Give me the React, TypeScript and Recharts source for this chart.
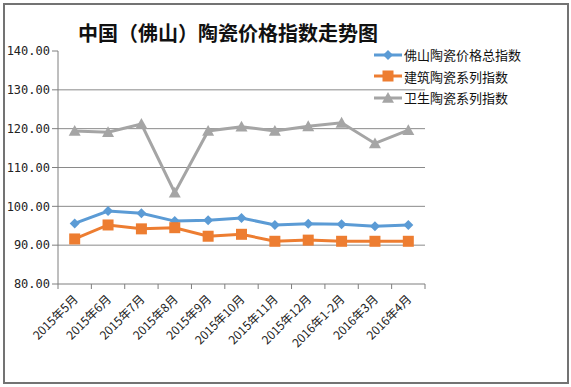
import React from "react"
import { LineChart, Line, XAxis, YAxis, ReferenceLine } from "recharts"

const months = [
  "2015年5月", "2015年6月", "2015年7月", "2015年8月", "2015年9月", "2015年10月",
  "2015年11月", "2015年12月", "2016年1-2月", "2016年3月", "2016年4月",
]
const totalIndex = [95.6, 98.8, 98.2, 96.2, 96.4, 97.0, 95.2, 95.5, 95.4, 94.9, 95.2]
const buildingIndex = [91.6, 95.2, 94.2, 94.5, 92.3, 92.8, 91.0, 91.3, 91.0, 91.0, 91.0]
const sanitaryIndex = [119.4, 119.1, 121.2, 103.5, 119.4, 120.5, 119.4, 120.6, 121.5, 116.2, 119.6]
const yTicks = [80, 90, 100, 110, 120, 130, 140]
const gridValues = [90, 100, 110, 120, 130]

const seriesNames = ["佛山陶瓷价格总指数", "建筑陶瓷系列指数", "卫生陶瓷系列指数"]
const colors = ["#5b9bd5", "#ed7d31", "#a5a5a5"]

const data = months.map((m, i) => ({
  month: m,
  total: totalIndex[i],
  building: buildingIndex[i],
  sanitary: sanitaryIndex[i],
}))

const W = 571
const H = 387
const PLOT_LEFT = 58
const PLOT_RIGHT = 425
const BAND = (PLOT_RIGHT - PLOT_LEFT) / months.length
const font = "'Noto Sans CJK SC', 'DejaVu Sans', sans-serif"

// eslint-disable-next-line @typescript-eslint/no-explicit-any
function Diamond({ cx, cy, fill }: any) {
  if (cx == null || cy == null) return null
  const r = 5
  return <polygon points={`${cx},${cy - r} ${cx + r},${cy} ${cx},${cy + r} ${cx - r},${cy}`} fill={fill} />
}

// eslint-disable-next-line @typescript-eslint/no-explicit-any
function Square({ cx, cy, fill }: any) {
  if (cx == null || cy == null) return null
  const r = 5.5
  return <rect x={cx - r} y={cy - r} width={r * 2} height={r * 2} fill={fill} />
}

// eslint-disable-next-line @typescript-eslint/no-explicit-any
function Triangle({ cx, cy, fill }: any) {
  if (cx == null || cy == null) return null
  const r = 6
  return <polygon points={`${cx},${cy - r} ${cx + r},${cy + r * 0.8} ${cx - r},${cy + r * 0.8}`} fill={fill} />
}

// eslint-disable-next-line @typescript-eslint/no-explicit-any
function MonthTick({ x, y, payload, index }: any) {
  const left = x - BAND / 2
  return (
    <g>
      <line x1={left} y1={y - 8} x2={left} y2={y - 3} stroke="#7f7f7f" />
      {index === months.length - 1 && (
        <line x1={x + BAND / 2} y1={y - 8} x2={x + BAND / 2} y2={y - 3} stroke="#7f7f7f" />
      )}
      <text
        x={x + 4}
        y={y + 8}
        transform={`rotate(-45, ${x + 4}, ${y + 8})`}
        textAnchor="end"
        fontSize={12}
        fill="#222"
        fontFamily={font}
      >
        {payload.value}
      </text>
    </g>
  )
}

const markers = [Diamond, Square, Triangle]

function Legend() {
  return (
    <div style={{ position: "absolute", left: 372, top: 44, fontFamily: font, fontSize: 13, color: "#111" }}>
      {seriesNames.map((name, i) => {
        const M = markers[i]
        return (
          <div key={name} style={{ display: "flex", alignItems: "center", height: 21.5 }}>
            <svg width={32} height={16}>
              <line x1={2} y1={8} x2={30} y2={8} stroke={colors[i]} strokeWidth={3} />
              <M cx={16} cy={8} fill={colors[i]} />
            </svg>
            <span>{name}</span>
          </div>
        )
      })}
    </div>
  )
}

export default function App() {
  return (
    <div style={{ position: "absolute", left: 0, top: 0, width: W, height: H, background: "#fff" }}>
      <div
        style={{
          position: "absolute",
          left: 3,
          top: 3,
          width: 562,
          height: 377,
          border: "2px solid #737373",
        }}
      />
      <div
        style={{
          position: "absolute",
          left: 78,
          top: 18,
          fontFamily: font,
          fontWeight: 700,
          fontSize: 20,
          color: "#111",
          whiteSpace: "nowrap",
        }}
      >
        中国（佛山）陶瓷价格指数走势图
      </div>
      <div style={{ position: "absolute", left: 0, top: 0 }}>
        <LineChart width={W} height={H} data={data} margin={{ top: 51, right: W - PLOT_RIGHT, bottom: 0, left: 0 }}>
          {gridValues.map((v) => (
            <ReferenceLine key={v} y={v} stroke="#8a8a8a" strokeWidth={1} />
          ))}
          <XAxis
            dataKey="month"
            interval={0}
            height={103}
            padding={{ left: BAND / 2, right: BAND / 2 }}
            tickLine={false}
            axisLine={{ stroke: "#7f7f7f" }}
            tick={<MonthTick />}
          />
          <YAxis
            domain={[80, 140]}
            ticks={yTicks}
            width={PLOT_LEFT}
            tickFormatter={(v: number) => v.toFixed(2)}
            axisLine={{ stroke: "#7f7f7f" }}
            tickLine={{ stroke: "#7f7f7f" }}
            tickSize={6}
            tick={{ fontSize: 12, fill: "#222", fontFamily: "'DejaVu Sans Mono', monospace" }}
          />
          <Line dataKey="sanitary" stroke={colors[2]} strokeWidth={3} dot={<Triangle fill={colors[2]} />} isAnimationActive={false} />
          <Line dataKey="total" stroke={colors[0]} strokeWidth={3} dot={<Diamond fill={colors[0]} />} isAnimationActive={false} />
          <Line dataKey="building" stroke={colors[1]} strokeWidth={3} dot={<Square fill={colors[1]} />} isAnimationActive={false} />
        </LineChart>
      </div>
      <Legend />
    </div>
  )
}
